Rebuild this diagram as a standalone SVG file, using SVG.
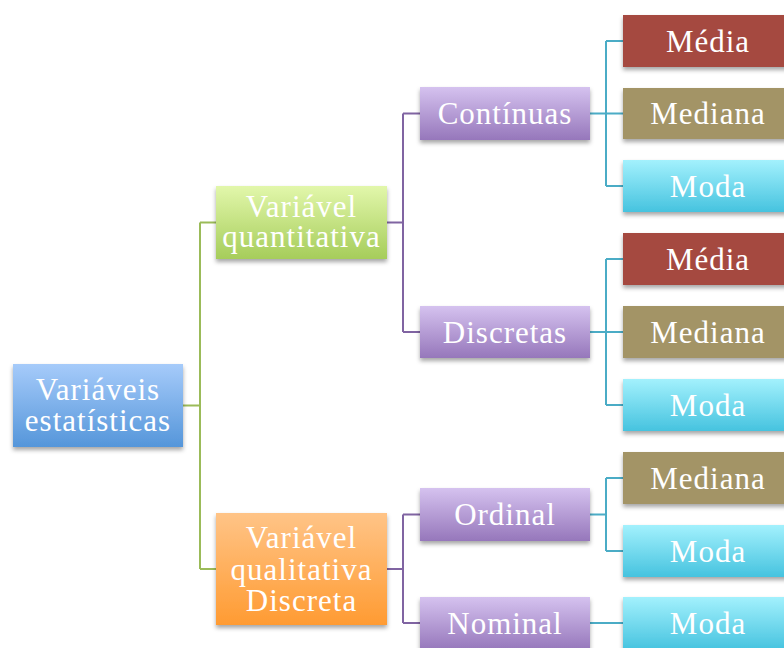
<svg xmlns="http://www.w3.org/2000/svg" width="784" height="648" viewBox="0 0 784 648">
<defs>
<linearGradient id="gBlue" x1="0" y1="0" x2="0" y2="1"><stop offset="0" stop-color="#a6cbfa"/><stop offset="1" stop-color="#5596da"/></linearGradient>
<linearGradient id="gGreen" x1="0" y1="0" x2="0" y2="1"><stop offset="0" stop-color="#e2f7ab"/><stop offset="1" stop-color="#a6cd5a"/></linearGradient>
<linearGradient id="gOrange" x1="0" y1="0" x2="0" y2="1"><stop offset="0" stop-color="#ffc487"/><stop offset="1" stop-color="#ff9b32"/></linearGradient>
<linearGradient id="gPurple" x1="0" y1="0" x2="0" y2="1"><stop offset="0" stop-color="#d5c2ef"/><stop offset="1" stop-color="#9677bb"/></linearGradient>
<linearGradient id="gCyan" x1="0" y1="0" x2="0" y2="1"><stop offset="0" stop-color="#a3f1fd"/><stop offset="1" stop-color="#46c3df"/></linearGradient>
<filter id="sh" x="-10%" y="-10%" width="120%" height="140%"><feDropShadow dx="0" dy="3" stdDeviation="2" flood-color="#000" flood-opacity="0.35"/></filter>
</defs>
<style>
text{font-family:"Liberation Serif","DejaVu Serif",serif;font-size:31px;letter-spacing:1px;fill:#ffffff;text-anchor:middle}
.box{filter:url(#sh)}
.cg{fill:none;stroke:#9bbb59;stroke-width:2}
.cp{fill:none;stroke:#8064a2;stroke-width:2}
.cc{fill:none;stroke:#4bacc6;stroke-width:2}
</style>
<g id="connectors">
<path class="cg" d="M183,405.5H200M200,222.5V569M200,222.5H216M200,569H216"/>
<path class="cp" d="M387,222.5H403M403,113.5V332M403,113.5H420M403,332H420"/>
<path class="cp" d="M387,569H403M403,514.5V623M403,514.5H420M403,623H420"/>
<path class="cc" d="M590,113.5H606M606,41V186M606,41H623M606,113.5H623M606,186H623"/>
<path class="cc" d="M590,332H606M606,259V405M606,259H623M606,332H623M606,405H623"/>
<path class="cc" d="M590,514.5H606M606,478V551M606,478H623M606,551H623"/>
<path class="cc" d="M590,623H623"/>
</g>
<g id="n-root"><rect class="box" x="13" y="364" width="170" height="83" fill="url(#gBlue)"/><text x="98" y="400">Variáveis</text><text x="98" y="431">estatísticas</text></g>
<g id="n-quant"><rect class="box" x="216" y="186" width="171" height="73" fill="url(#gGreen)"/><text x="301.5" y="217">Variável</text><text x="301.5" y="247">quantitativa</text></g>
<g id="n-qual"><rect class="box" x="216" y="513" width="171" height="112" fill="url(#gOrange)"/><text x="301.5" y="548">Variável</text><text x="301.5" y="580">qualitativa</text><text x="301.5" y="611">Discreta</text></g>
<g id="n-continuas"><rect class="box" x="420" y="87" width="170" height="53" fill="url(#gPurple)"/><text x="505" y="124">Contínuas</text></g>
<g id="n-discretas"><rect class="box" x="420" y="306" width="170" height="52" fill="url(#gPurple)"/><text x="505" y="343">Discretas</text></g>
<g id="n-ordinal"><rect class="box" x="420" y="488" width="170" height="53" fill="url(#gPurple)"/><text x="505" y="525">Ordinal</text></g>
<g id="n-nominal"><rect class="box" x="420" y="597" width="170" height="53" fill="url(#gPurple)"/><text x="505" y="634">Nominal</text></g>
<g id="l1-media"><rect class="box" x="623" y="15" width="170" height="52" fill="#a5483f"/><text x="708" y="52">Média</text></g>
<g id="l1-mediana"><rect class="box" x="623" y="88" width="170" height="51" fill="#a39466"/><text x="708" y="124">Mediana</text></g>
<g id="l1-moda"><rect class="box" x="623" y="160" width="170" height="52" fill="url(#gCyan)"/><text x="708" y="197">Moda</text></g>
<g id="l2-media"><rect class="box" x="623" y="233" width="170" height="52" fill="#a5483f"/><text x="708" y="270">Média</text></g>
<g id="l2-mediana"><rect class="box" x="623" y="306" width="170" height="52" fill="#a39466"/><text x="708" y="343">Mediana</text></g>
<g id="l2-moda"><rect class="box" x="623" y="379" width="170" height="52" fill="url(#gCyan)"/><text x="708" y="416">Moda</text></g>
<g id="l3-mediana"><rect class="box" x="623" y="452" width="170" height="52" fill="#a39466"/><text x="708" y="489">Mediana</text></g>
<g id="l3-moda"><rect class="box" x="623" y="525" width="170" height="52" fill="url(#gCyan)"/><text x="708" y="562">Moda</text></g>
<g id="l4-moda"><rect class="box" x="623" y="597" width="170" height="53" fill="url(#gCyan)"/><text x="708" y="634">Moda</text></g>
</svg>
